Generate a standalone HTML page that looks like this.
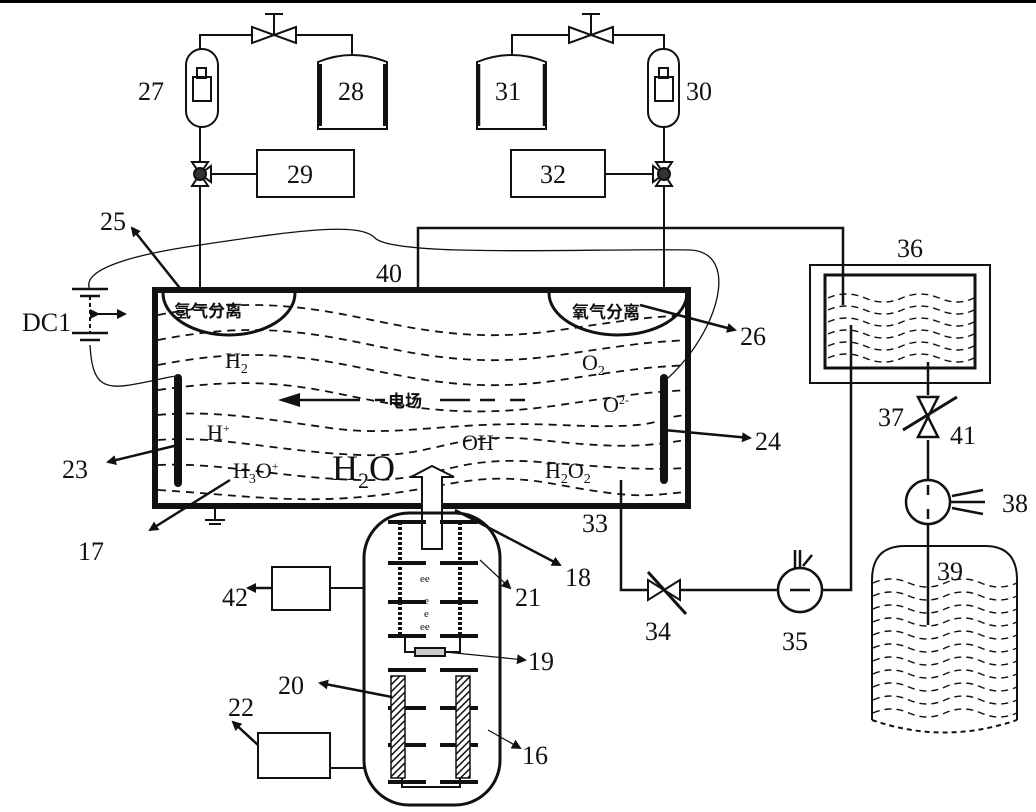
<!DOCTYPE html>
<html><head><meta charset="utf-8"><style>
html,body{margin:0;padding:0;background:#fff;}
svg{display:block}
text{font-family:"Liberation Serif","Noto Serif CJK SC",serif;fill:#111}
</style></head><body>
<svg width="1036" height="812" viewBox="0 0 1036 812" xmlns="http://www.w3.org/2000/svg">
<defs>
<marker id="ar" markerWidth="10" markerHeight="10" refX="8" refY="5" orient="auto" markerUnits="userSpaceOnUse"><path d="M0,0 L10,5 L0,10 Z" fill="#111"/></marker>
<pattern id="hatch" width="5" height="5" patternUnits="userSpaceOnUse" patternTransform="rotate(45)"><rect width="5" height="5" fill="#fff"/><line x1="0" y1="0" x2="0" y2="5" stroke="#111" stroke-width="3"/></pattern>
</defs>
<rect x="0" y="0" width="1036" height="3" fill="#000"/>
<g stroke="#111" fill="none" stroke-width="2">
<path d="M200,290 V127 M200,49 V35 H252 M296,35 H352 V54"/>
<path d="M252,27 L274,35 L252,43 Z M296,27 L274,35 L296,43 Z" fill="#fff"/>
<path d="M274,35 V14 M265,14 H283"/>
<rect x="186" y="49" width="32" height="78" rx="16"/>
<rect x="193" y="77" width="18" height="24" fill="#fff"/><rect x="197" y="68" width="9" height="10"/>
<path d="M318,129 V62 Q352,48 387,62 V129 Z"/>
<path d="M320,64 V126 M385,64 V126" stroke-width="4"/>
<rect x="257" y="150" width="97" height="47"/>
<path d="M211,174 H257"/>
<path d="M192,162 L208,162 L200,174 Z M192,186 L208,186 L200,174 Z M211,166 L211,182 L200,174 Z" fill="#fff"/>
<circle cx="200" cy="174" r="6" fill="#333"/>
<path d="M664,290 V127 M664,49 V35 H613 M569,35 H512 V54"/>
<path d="M569,27 L591,35 L569,43 Z M613,27 L591,35 L613,43 Z" fill="#fff"/>
<path d="M591,35 V14 M582,14 H600"/>
<rect x="648" y="49" width="31" height="78" rx="15"/>
<rect x="655" y="77" width="18" height="24" fill="#fff"/><rect x="659" y="68" width="9" height="10"/>
<path d="M477,129 V62 Q512,48 546,62 V129 Z"/>
<path d="M479,64 V126 M544,64 V126" stroke-width="2.5"/>
<rect x="511" y="150" width="94" height="47"/>
<path d="M605,174 H653"/>
<path d="M656,162 L672,162 L664,174 Z M656,186 L672,186 L664,174 Z M653,166 L653,182 L664,174 Z" fill="#fff"/>
<circle cx="664" cy="174" r="6" fill="#333"/>
<path d="M418,290 V228 H843 V305" stroke-width="2.5"/>
<path d="M90,290 C80,270 130,255 200,245 C300,230 360,222 375,238 C395,258 600,248 690,250 C740,252 720,330 668,378" stroke-width="1.3"/>
<path d="M90,345 C92,380 100,390 130,385 C160,380 170,376 178,376" stroke-width="1.3"/>
<path d="M72,289 H108 M80,296 H100 M72,333 H108 M80,340 H100" stroke-width="2.5"/>
<path d="M90,296 V333" stroke-dasharray="4,3"/>
<path d="M98,314 H125" marker-start="url(#ar)" marker-end="url(#ar)"/>
<rect x="155" y="290" width="533" height="216" stroke-width="6"/>
<path d="M163,293 A66,42 0 0 0 295,293" stroke-width="3"/>
<path d="M549,293 A69,42 0 0 0 687,293" stroke-width="3"/>
<g stroke-dasharray="8,6" stroke-width="1.8">
<path d="M158,315 C210,305 260,300 330,312 S460,345 560,330 S650,318 686,315"/>
<path d="M158,340 C210,330 260,325 330,337 S460,370 560,355 S650,343 686,340"/>
<path d="M158,365 C210,355 260,350 330,362 S460,395 560,380 S650,368 686,365"/>
<path d="M158,390 C210,383 260,378 330,392 S460,420 560,405 S650,393 686,390"/>
<path d="M158,415 C210,410 260,418 330,428 S450,420 560,425 S650,418 686,415"/>
<path d="M158,440 C220,435 280,452 360,455 S450,430 540,440 S650,445 686,440"/>
<path d="M158,465 C220,462 280,478 360,480 S450,455 540,462 S650,470 686,468"/>
<path d="M158,490 C240,495 300,505 380,495 S480,470 560,485 S650,495 686,492"/>
</g>
<path d="M178,378 V483 M664,378 V480" stroke-width="8" stroke-linecap="round"/>
<path d="M300,400 H360 M375,400 H385 M440,400 H470 M480,400 H495 M510,400 H525" stroke-width="2.5"/>
<path d="M422,549 V477 H411 L432,466 L454,477 H442 V549 Z" fill="#fff"/>
<path d="M621,480 V590 H648 M680,590 H777 M823,590 H851 V325" stroke-width="2.5"/>
<path d="M648,580 L664,590 L648,600 Z M680,580 L664,590 L680,600 Z" fill="#fff"/>
<path d="M648,572 L686,614" stroke-width="3"/>
<circle cx="800" cy="590" r="22" stroke-width="2.5"/>
<path d="M790,590 H810 M800,568 V550 M795,568 V550 M803,566 L812,555" stroke-width="2.5"/>
<rect x="810" y="265" width="180" height="118"/>
<rect x="825" y="275" width="150" height="93" stroke-width="3"/>
<g stroke-dasharray="7,5" stroke-width="1.4">
<path d="M828,298 q18,-8 37,0 t37,0 t37,0 t35,0"/>
<path d="M828,310 q18,-8 37,0 t37,0 t37,0 t35,0"/>
<path d="M828,322 q18,-8 37,0 t37,0 t37,0 t35,0"/>
<path d="M828,334 q18,-8 37,0 t37,0 t37,0 t35,0"/>
<path d="M828,346 q18,-8 37,0 t37,0 t37,0 t35,0"/>
<path d="M828,358 q18,-8 37,0 t37,0 t37,0 t35,0"/>
</g>
<path d="M928,362 V395 M928,440 V480 M928,524 V625" stroke-width="2.5"/>
<path d="M918,397 L938,397 L928,417 Z M918,437 L938,437 L928,417 Z" fill="#fff" stroke-width="2.5"/>
<path d="M903,430 L957,397" stroke-width="3"/>
<circle cx="928" cy="502" r="22" stroke-width="2.5"/>
<path d="M928,485 V495 M928,509 V519 M950,502 H985 M952,496 L983,490 M952,508 L983,514" stroke-width="2.5"/>
<path d="M872,720 V580 Q872,546 905,546 H985 Q1017,546 1017,580 V720" stroke-width="2"/>
<path d="M872,720 Q944,745 1017,720" stroke-dasharray="5,4"/>
<g stroke-dasharray="7,5" stroke-width="1.4">
<path d="M873,583 q18,-8 36,0 t36,0 t36,0 t36,0"/>
<path d="M873,596 q18,-8 36,0 t36,0 t36,0 t36,0"/>
<path d="M873,609 q18,-8 36,0 t36,0 t36,0 t36,0"/>
<path d="M873,622 q18,-8 36,0 t36,0 t36,0 t36,0"/>
<path d="M873,635 q18,-8 36,0 t36,0 t36,0 t36,0"/>
<path d="M873,648 q18,-8 36,0 t36,0 t36,0 t36,0"/>
<path d="M873,661 q18,-8 36,0 t36,0 t36,0 t36,0"/>
<path d="M873,674 q18,-8 36,0 t36,0 t36,0 t36,0"/>
<path d="M873,687 q18,-8 36,0 t36,0 t36,0 t36,0"/>
<path d="M873,700 q18,-8 36,0 t36,0 t36,0 t36,0"/>
<path d="M873,713 q18,-8 36,0 t36,0 t36,0 t36,0"/>
</g>
<rect x="364" y="513" width="136" height="292" rx="45" stroke-width="3"/>
<path d="M388,522 H426 M440,522 H478 M388,563 H426 M440,563 H478 M388,602 H426 M440,602 H478 M388,636 H426 M440,636 H478 M388,670 H426 M440,670 H478 M388,708 H426 M440,708 H478 M388,745 H426 M440,745 H478 M388,782 H426 M440,782 H478" stroke-width="4"/>
<path d="M400,522 V636 M460,522 V636" stroke-width="4" stroke-dasharray="3,2"/>
<rect x="391" y="676" width="14" height="102" fill="url(#hatch)" stroke-width="1.5"/>
<rect x="456" y="676" width="14" height="102" fill="url(#hatch)" stroke-width="1.5"/>
<path d="M405,636 V652 H460 V636 M402,778 V787 H460 V778"/>
<rect x="415" y="648" width="30" height="8" fill="#ccc"/>
<path d="M330,588 H364 M330,768 H364"/>
<rect x="272" y="567" width="58" height="43"/>
<rect x="258" y="733" width="72" height="45"/>
</g>
<g fill="#111" font-size="11"><text x="420" y="582">ee</text><text x="424" y="604">e</text><text x="424" y="617">e</text><text x="420" y="630">ee</text></g>
<g stroke="#111" stroke-width="2.5" fill="none" marker-end="url(#ar)">
<path d="M183,292 L132,228"/>
<path d="M640,305 L735,330"/>
<path d="M664,430 L750,438"/>
<path d="M178,445 L108,462"/>
<path d="M230,480 L150,530"/>
<path d="M455,510 L560,565"/>
<path d="M480,560 L510,588" stroke-width="1.2"/>
<path d="M272,588 H248"/>
<path d="M445,652 L525,660" stroke-width="1.2"/>
<path d="M392,697 L320,683"/>
<path d="M258,745 L233,722"/>
<path d="M488,730 L520,748" stroke-width="1.2"/>
</g>
<path d="M215,506 V520 M205,520 H225 M209,524 H221" stroke="#111" stroke-width="2"/>
<g font-size="26">
<text x="138" y="100">27</text><text x="338" y="100">28</text><text x="287" y="183">29</text>
<text x="495" y="100">31</text><text x="686" y="100">30</text><text x="540" y="183">32</text>
<text x="100" y="230">25</text><text x="376" y="282">40</text><text x="897" y="257">36</text>
<text x="22" y="331">DC1</text><text x="740" y="345">26</text><text x="755" y="450">24</text>
<text x="62" y="478">23</text><text x="78" y="560">17</text><text x="565" y="586">18</text>
<text x="515" y="606">21</text><text x="222" y="606">42</text><text x="528" y="670">19</text>
<text x="278" y="694">20</text><text x="228" y="716">22</text><text x="522" y="764">16</text>
<text x="582" y="532">33</text><text x="645" y="640">34</text><text x="782" y="650">35</text>
<text x="878" y="426">37</text><text x="950" y="444">41</text><text x="1002" y="512">38</text>
<text x="937" y="580">39</text>
</g>
<g font-size="17" font-weight="bold">
<text x="174" y="317" style="font-family:'Noto Sans CJK SC',sans-serif">氢气分离</text>
<text x="572" y="318" style="font-family:'Noto Sans CJK SC',sans-serif">氧气分离</text>
<text x="388" y="407" style="font-family:'Noto Sans CJK SC',sans-serif">电场</text>
</g>
<path d="M278,400 L300,393 L300,407 Z" fill="#111"/>
<g font-size="22">
<text x="225" y="368">H<tspan font-size="14" dy="5">2</tspan></text>
<text x="582" y="370">O<tspan font-size="14" dy="5">2</tspan></text>
<text x="603" y="412">O<tspan font-size="12" dy="-8">2-</tspan></text>
<text x="207" y="440">H<tspan font-size="12" dy="-8">+</tspan></text>
<text x="462" y="450">OH<tspan font-size="12" dy="-8">-</tspan></text>
<text x="233" y="478">H<tspan font-size="14" dy="5">3</tspan><tspan dy="-5">O</tspan><tspan font-size="12" dy="-8">+</tspan></text>
<text x="545" y="478">H<tspan font-size="14" dy="5">2</tspan><tspan dy="-5">O</tspan><tspan font-size="14" dy="5">2</tspan></text>
</g>
<text x="332" y="480" font-size="36">H<tspan font-size="22" dy="8">2</tspan><tspan dy="-8">O</tspan></text>
</svg>
</body></html>
